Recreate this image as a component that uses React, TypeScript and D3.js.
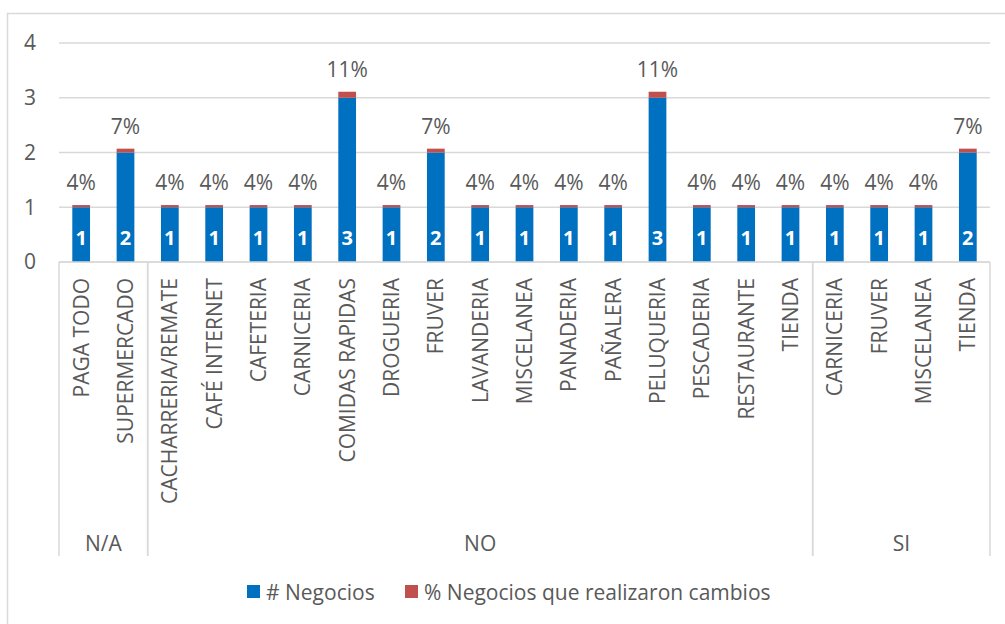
import { useMemo } from "react"
import * as d3 from "d3"

// categorías agrupadas (nivel 1 = grupo, nivel 2 = tipo de negocio)
const groups = ["N/A", "NO", "SI"]
const categories = [
  { group: "N/A", name: "PAGA TODO" },
  { group: "N/A", name: "SUPERMERCADO" },
  { group: "NO", name: "CACHARRERIA/REMATE" },
  { group: "NO", name: "CAFÉ INTERNET" },
  { group: "NO", name: "CAFETERIA" },
  { group: "NO", name: "CARNICERIA" },
  { group: "NO", name: "COMIDAS RAPIDAS" },
  { group: "NO", name: "DROGUERIA" },
  { group: "NO", name: "FRUVER" },
  { group: "NO", name: "LAVANDERIA" },
  { group: "NO", name: "MISCELANEA" },
  { group: "NO", name: "PANADERIA" },
  { group: "NO", name: "PAÑALERA" },
  { group: "NO", name: "PELUQUERIA" },
  { group: "NO", name: "PESCADERIA" },
  { group: "NO", name: "RESTAURANTE" },
  { group: "NO", name: "TIENDA" },
  { group: "SI", name: "CARNICERIA" },
  { group: "SI", name: "FRUVER" },
  { group: "SI", name: "MISCELANEA" },
  { group: "SI", name: "TIENDA" },
]
const negocios = [1, 2, 1, 1, 1, 1, 3, 1, 2, 1, 1, 1, 1, 3, 1, 1, 1, 1, 1, 1, 2]
const pctCambios = [
  0.04, 0.07, 0.04, 0.04, 0.04, 0.04, 0.11, 0.04, 0.07, 0.04, 0.04, 0.04, 0.04,
  0.11, 0.04, 0.04, 0.04, 0.04, 0.04, 0.04, 0.07,
]
const yTicks = [0, 1, 2, 3, 4]
const seriesNames = ["# Negocios", "% Negocios que realizaron cambios"]

const W = 1005
const H = 624
const BLUE = "#0070C0"
const RED = "#C0504D"
const GRID = "#D9D9D9"
const TEXT = "#595959"
const FONT = "'Open Sans', sans-serif"
const FS = 21

export default function App() {
  const margin = { left: 59, right: 15, top: 43, bottom: 362 }
  const axisBottom = 556

  const x = useMemo(
    () =>
      d3
        .scaleBand<number>()
        .domain(d3.range(categories.length))
        .range([margin.left, W - margin.right])
        .paddingInner(0.6)
        .paddingOuter(0.3),
    []
  )
  const y = useMemo(
    () => d3.scaleLinear().domain([0, 4]).range([H - margin.bottom, margin.top]),
    []
  )

  const step = x.step()
  const x0 = margin.left
  const x1 = W - margin.right
  const fmt = d3.format(".0%")

  // límites de grupos
  const groupSpans = groups.map(g => {
    const idx = categories.map((c, i) => (c.group === g ? i : -1)).filter(i => i >= 0)
    const start = x0 + d3.min(idx)! * step
    const end = x0 + (d3.max(idx)! + 1) * step
    return { g, start, end }
  })

  return (
    <svg
      width={W}
      height={H}
      style={{ position: "absolute", left: 0, top: 0, background: "#fff" }}
      fontFamily={FONT}
    >
      {/* borde del gráfico */}
      <rect x={7.5} y={13.5} width={W + 10} height={H + 10} fill="#fff" stroke={GRID} strokeWidth={1.5} />

      {/* grilla */}
      {yTicks.map(t => (
        <g key={t}>
          <line x1={x0} x2={x1} y1={y(t)} y2={y(t)} stroke={GRID} strokeWidth={1.5} />
          <text x={36} y={y(t)} dy="0.35em" textAnchor="end" fontSize={FS} fill={TEXT}>
            {t}
          </text>
        </g>
      ))}

      {/* barras apiladas */}
      {categories.map((c, i) => {
        const bx = x(i)!
        const bw = x.bandwidth()
        const cx = bx + bw / 2
        const top = negocios[i] + pctCambios[i]
        return (
          <g key={i}>
            <rect x={bx} y={y(negocios[i])} width={bw} height={y(0) - y(negocios[i])} fill={BLUE} />
            <rect
              x={bx}
              y={y(top)}
              width={bw}
              height={y(negocios[i]) - y(top)}
              fill={RED}
            />
            <text x={cx} y={y(0) - 17} textAnchor="middle" fontSize={20} fontWeight="bold" fill="#fff">
              {negocios[i]}
            </text>
            <text x={cx} y={y(top) - 15} textAnchor="middle" fontSize={FS} fill={TEXT}>
              {fmt(pctCambios[i])}
            </text>
            <text
              transform={`translate(${cx + 7.5},${y(0) + 16}) rotate(-90)`}
              textAnchor="end"
              fontSize={FS}
              fill={TEXT}
            >
              {c.name}
            </text>
          </g>
        )
      })}

      {/* eje de categorías multinivel */}
      <line x1={x0} x2={x1} y1={y(0)} y2={y(0)} stroke={GRID} strokeWidth={1.5} />
      {groupSpans.map(s => (
        <g key={s.g}>
          <line x1={s.start} x2={s.start} y1={y(0)} y2={axisBottom} stroke={GRID} strokeWidth={1.5} />
          <line x1={s.end} x2={s.end} y1={y(0)} y2={axisBottom} stroke={GRID} strokeWidth={1.5} />
          <text x={(s.start + s.end) / 2} y={551} textAnchor="middle" fontSize={FS} fill={TEXT}>
            {s.g}
          </text>
        </g>
      ))}

      {/* leyenda */}
      <g>
        <rect x={247} y={585} width={13} height={13} fill={BLUE} />
        <text x={266} y={600} fontSize={FS} fill={TEXT}>
          {seriesNames[0]}
        </text>
        <rect x={405} y={585} width={13} height={13} fill={RED} />
        <text x={424} y={600} fontSize={FS} fill={TEXT}>
          {seriesNames[1]}
        </text>
      </g>
    </svg>
  )
}
